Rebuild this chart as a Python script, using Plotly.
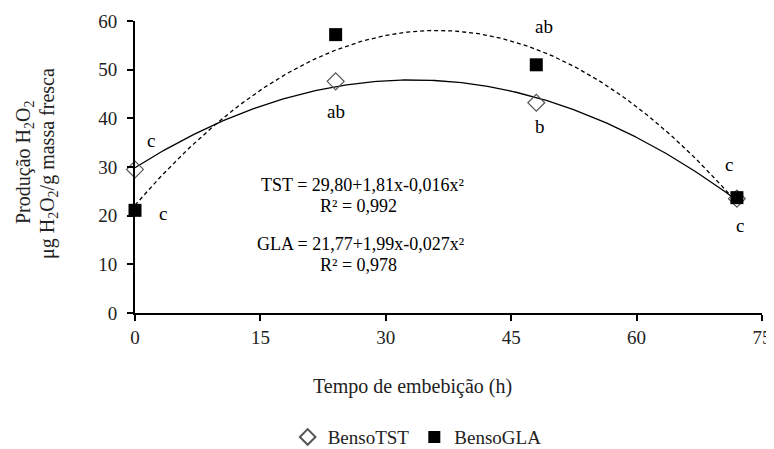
import numpy as np
import plotly.graph_objects as go

hours = [0, 24, 48, 72]
tst_values = [29.5, 47.6, 43.2, 23.5]
gla_values = [21.1, 57.2, 51.0, 23.7]

x_ticks = [0, 15, 30, 45, 60, 75]
y_ticks = [0, 10, 20, 30, 40, 50, 60]

# letters of significance: (x, y, text)
letters_x = [24, 24, 1.9, 3.4, 48.9, 48.4, 71.0, 72.4]
letters_y = [60.6, 41.5, 35.4, 20.5, 58.8, 38.3, 30.6, 17.9]
letters_t = ["a", "ab", "c", "c", "ab", "b", "c", "c"]

x_title = "Tempo de embebição (h)"
y_title_lines = ["Produção H<sub>2</sub>O<sub>2</sub>",
                 "μg H<sub>2</sub>O<sub>2</sub>/g massa fresca"]

FONT = "Liberation Serif, Times New Roman, serif"

L, T, PW, PH = 135, 21, 627, 292  # plot area on page


def px_x(p):
    return (p - L) / PW


def px_y(p):
    return (T + PH - p) / PH


xs = np.linspace(0, 72, 200)
tst_fit = np.polyval(np.polyfit(hours, tst_values, 2), xs)
gla_fit = np.polyval(np.polyfit(hours, gla_values, 2), xs)

fig = go.Figure()
fig.add_trace(go.Scatter(x=xs, y=tst_fit, mode="lines", line=dict(color="black", width=1.3),
                         showlegend=False, hoverinfo="skip"))
fig.add_trace(go.Scatter(x=xs, y=gla_fit, mode="lines", line=dict(color="black", width=1.3, dash="4px,3px"),
                         showlegend=False, hoverinfo="skip"))
fig.add_trace(go.Scatter(x=hours, y=tst_values, mode="markers", name="BensoTST",
                         marker=dict(symbol="diamond-open", size=13, color="#555", line=dict(width=1.2)),
                         cliponaxis=False))
fig.add_trace(go.Scatter(x=hours, y=gla_values, mode="markers", name="BensoGLA",
                         marker=dict(symbol="square", size=13, color="black"),
                         cliponaxis=False))

for x, y, t in zip(letters_x, letters_y, letters_t):
    fig.add_annotation(x=x, y=y, text=t, showarrow=False, font=dict(family=FONT, size=19, color="black"))

# page positions (px, py) of the equation texts
eqs = [(362, 185, "TST = 29,80+1,81x-0,016x²"), (358, 206, "R² = 0,992"),
       (360, 256, "GLA = 21,77+1,99x-0,027x²"), (358, 277, "R² = 0,978")]
for px, py, t in eqs:
    fig.add_annotation(xref="paper", yref="paper", x=px_x(px), y=px_y(py),
                       text=t, showarrow=False, font=dict(family=FONT, size=18, color="black"))

# axis titles
fig.add_annotation(xref="paper", yref="paper", x=px_x(412), y=px_y(386), text=x_title,
                   showarrow=False, xanchor="center", yanchor="middle",
                   font=dict(family=FONT, size=20, color="#222"))
for cx, line in zip([25, 49], y_title_lines):
    fig.add_annotation(xref="paper", yref="paper", x=px_x(cx), y=px_y(163), text=line,
                       showarrow=False, textangle=-90, xanchor="center", yanchor="middle",
                       font=dict(family=FONT, size=20, color="#222"))

fig.update_layout(
    width=766, height=441,
    margin=dict(l=L - 8, r=766 - (L - 8) - PW, t=T - 8, b=441 - (T - 8) - PH, autoexpand=False),
    plot_bgcolor="white", paper_bgcolor="white",
    font=dict(family=FONT, size=19, color="#222"),
    legend=dict(orientation="h", x=0.45, xanchor="center", y=-0.425, yanchor="middle",
                font=dict(family=FONT, size=19), itemsizing="constant", itemwidth=30, tracegroupgap=0),
    xaxis=dict(range=[0, 75], tickvals=x_ticks, showgrid=False, zeroline=False,
               showline=True, linecolor="black", linewidth=2, ticks="outside", ticklen=6,
               tickwidth=2, tickcolor="black", tickfont=dict(size=19), automargin=False),
    yaxis=dict(range=[0, 60], tickvals=y_ticks, showgrid=False, zeroline=False,
               showline=True, linecolor="black", linewidth=2, ticks="outside", ticklen=6,
               tickwidth=2, tickcolor="black", tickfont=dict(size=19), automargin=False,
               ticklabelstandoff=6),
)

fig.write_html("out.html")
